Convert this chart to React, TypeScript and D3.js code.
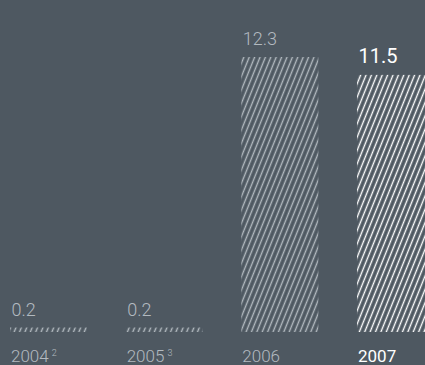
import React from "react";
import * as d3 from "d3";

// Annual figures, one bar per year
const years: string[] = ["2004", "2005", "2006", "2007"];
const footnotes: string[] = ["2", "3", "", ""];
const values: number[] = [0.2, 0.2, 12.3, 11.5];
const highlightYear = "2007";

const W = 425;
const H = 365;
const BG = "#4e5861";
const MUTED = "#b3bac0";
const BRIGHT = "#ffffff";
const FONT = "Roboto, 'Noto Sans', Arial, sans-serif";

export default function App() {
  const x = d3
    .scaleBand<string>()
    .domain(years)
    .range([10, 434])
    .paddingInner(0.334)
    .paddingOuter(0);

  const y = d3.scaleLinear().domain([0, 12.3]).range([332, 57]);

  return (
    <div style={{ position: "absolute", left: 0, top: 0, width: W, height: H }}>
      <svg width={W} height={H} style={{ display: "block" }}>
        <defs>
          {[
            ["hatch-muted", MUTED],
            ["hatch-bright", BRIGHT],
          ].map(([id, c]) => (
            <pattern
              key={id}
              id={id}
              patternUnits="userSpaceOnUse"
              width={5}
              height={10}
              patternTransform="rotate(22)"
            >
              <line x1={2.5} y1={-1} x2={2.5} y2={11} stroke={c} strokeWidth={1.4} />
            </pattern>
          ))}
        </defs>
        <rect x={0} y={0} width={W} height={H} fill={BG} />
        {years.map((yr, i) => {
          const hi = yr === highlightYear;
          const bx = x(yr)!;
          const top = y(values[i]);
          const color = hi ? BRIGHT : MUTED;
          return (
            <g key={yr}>
              <rect
                x={bx}
                y={top}
                width={x.bandwidth()}
                height={y(0) - top}
                fill={hi ? "url(#hatch-bright)" : "url(#hatch-muted)"}
              />
              <text
                x={bx + 1.5}
                y={top - 12}
                fill={color}
                fontFamily={FONT}
                fontSize={hi ? 20 : 18}
                fontWeight={hi ? 400 : 300}
              >
                {values[i].toFixed(1)}
              </text>
              <text
                x={bx + 1}
                y={362}
                fill={color}
                fontFamily={FONT}
                fontSize={17}
                fontWeight={hi ? 400 : 300}
              >
                {yr}
                {footnotes[i] && (
                  <tspan dx={3} dy={-6} fontSize={9}>
                    {footnotes[i]}
                  </tspan>
                )}
              </text>
            </g>
          );
        })}
      </svg>
    </div>
  );
}
